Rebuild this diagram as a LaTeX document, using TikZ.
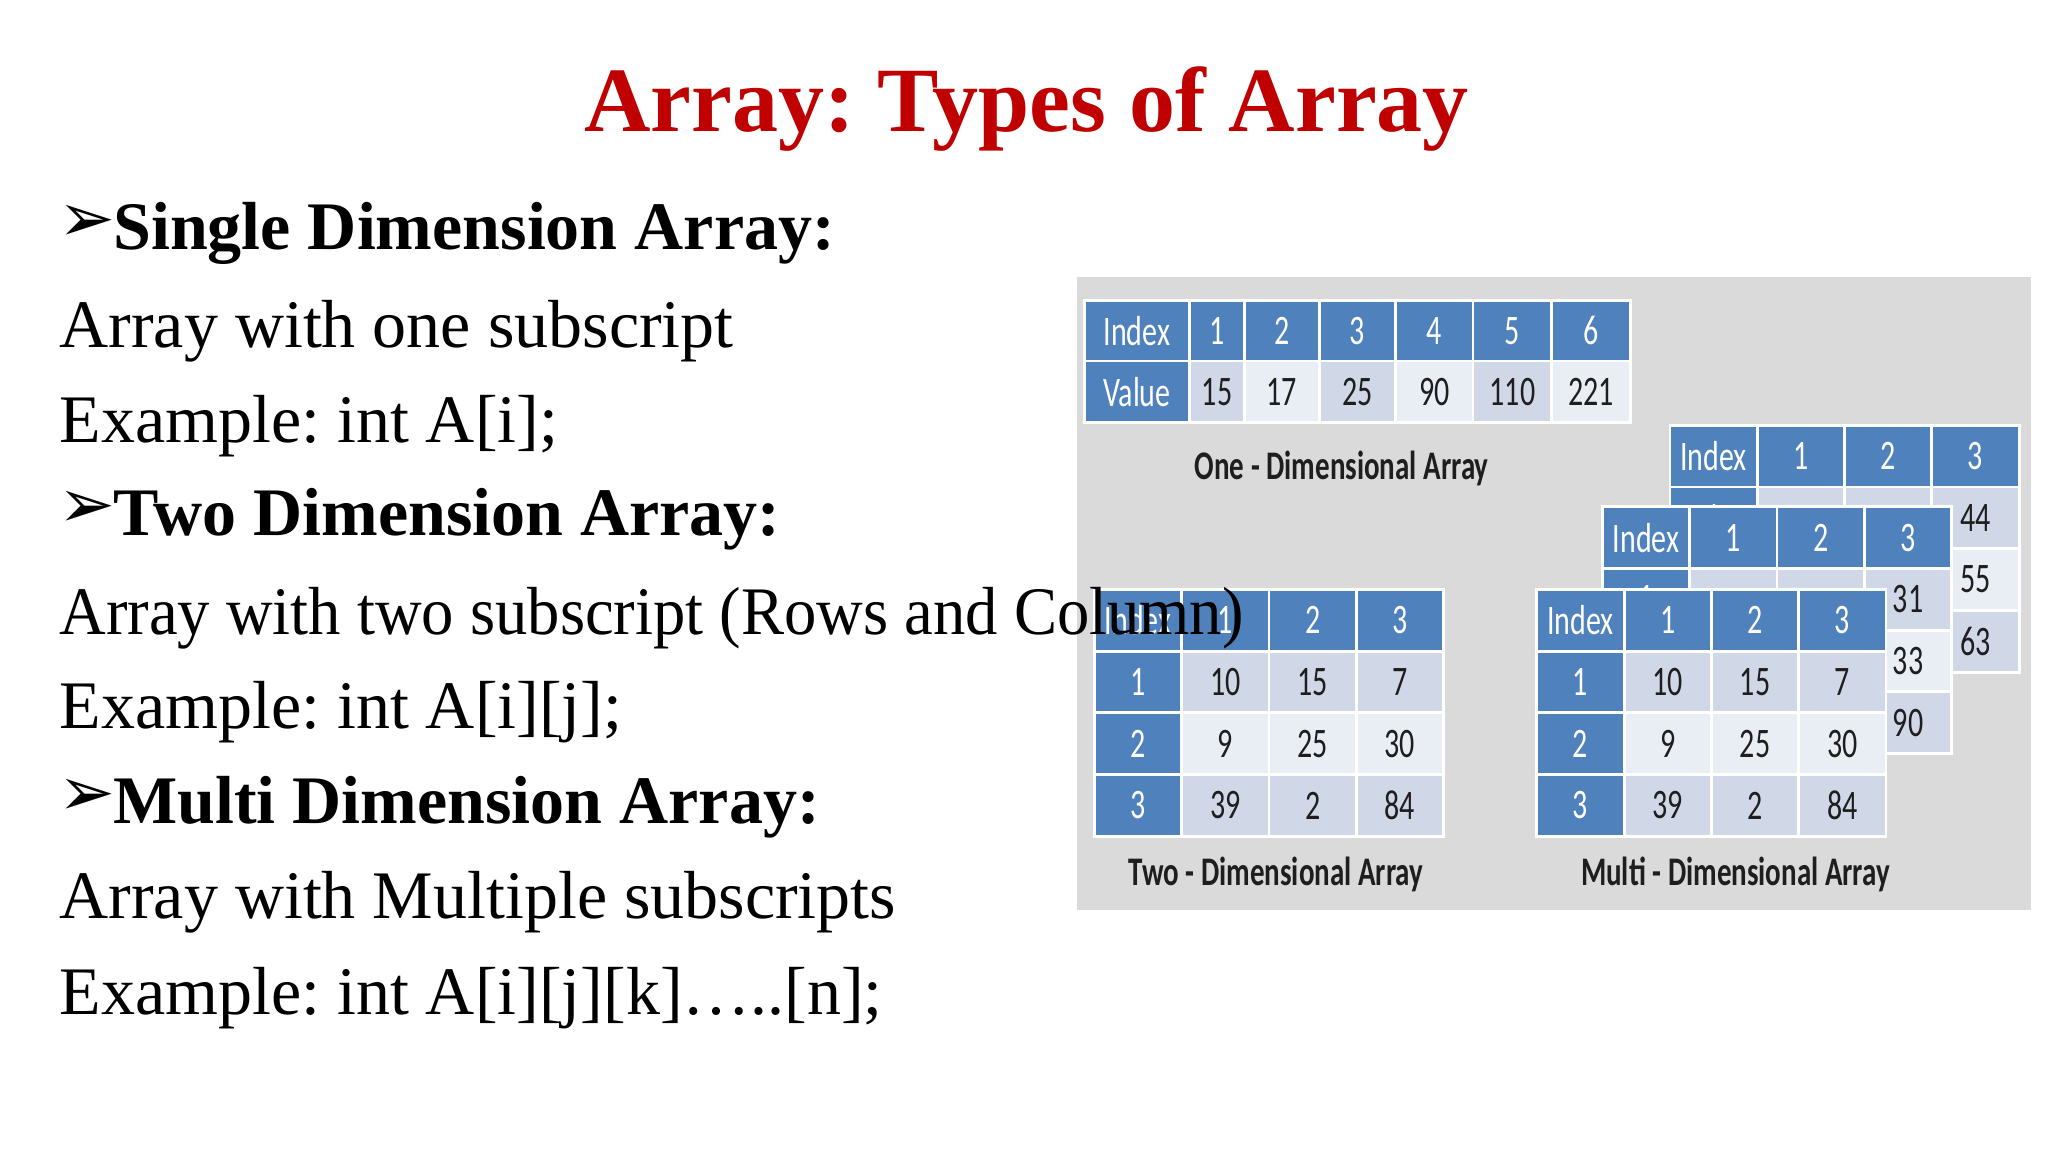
\documentclass[tikz,border=0pt]{standalone}
\usepackage{fontspec}
\usepackage{graphicx}
\setmainfont{Liberation Serif}
\newfontfamily\calf{Carlito}
\newfontfamily\dvf{DejaVu Sans}
\frenchspacing
\definecolor{titred}{RGB}{192,0,0}
\definecolor{hdr}{RGB}{79,129,189}
\definecolor{ltA}{RGB}{208,216,232}
\definecolor{ltB}{RGB}{233,237,244}
\definecolor{panel}{RGB}{218,218,218}
\definecolor{txt}{RGB}{30,30,30}
\newcommand\cellfont{\calf\fontsize{15}{15}\selectfont}
\newcommand\bx[7]{%
  \path[fill=#5,draw=white,line width=1.4pt] ({#1},{#2}) rectangle ++({#3},{#4});
  \node[text=#6,font=\cellfont,inner sep=0pt] at ({(#1)+(#3)/2},{(#2)+(#4)/2}) {\scalebox{1}[1.4]{#7}};}
\newcommand\mtab[3]{%
  \foreach \t [count=\c from 0] in {Index,1,2,3} {\bx{#1+66.5*\c}{#2}{66.5}{47}{hdr}{white}{\t}}
  \foreach \r in {1,2,3} {\bx{#1}{#2+47*\r}{66.5}{47}{hdr}{white}{\r}}
  \foreach \v [count=\k from 0] in {#3} {%
    \pgfmathtruncatemacro\rr{\k/3}%
    \pgfmathtruncatemacro\cc{mod(\k,3)}%
    \ifnum\rr=1 \def\fc{ltB}\else\def\fc{ltA}\fi
    \bx{#1+66.5*(\cc+1)}{#2+47*(\rr+1)}{66.5}{47}{\fc}{txt}{\v}}}
\tikzset{line/.style={anchor=base west,inner sep=0pt,font=\fontsize{34}{34}\selectfont},
  head/.style={line,font=\fontsize{34}{34}\selectfont\bfseries},
  arr/.style={anchor=base west,inner sep=0pt,font=\dvf\fontsize{34}{34}\selectfont},
  lab/.style={inner sep=0pt,text=txt,font=\calf\bfseries\fontsize{14.5}{14.5}\selectfont}}
\begin{document}
\begin{tikzpicture}[x=0.6564pt,y=-0.6564pt]
\useasboundingbox (0,0) rectangle (1560,877.5);
\fill[white] (0,0) rectangle (1560,877.5);
\fill[panel] (820,211) rectangle (1547,693);
% 1D table
\bx{826}{229}{80}{46}{hdr}{white}{Index}
\bx{826}{275}{80}{47}{hdr}{white}{Value}
\foreach \a/\b/\i/\v/\f in {906/948/1/15/ltA,948/1005/2/17/ltB,1005/1063/3/25/ltA,1063/1122/4/90/ltB,1122/1182/5/110/ltA,1182/1242/6/221/ltB}{%
  \bx{\a}{229}{\b-\a}{46}{hdr}{white}{\i}
  \bx{\a}{275}{\b-\a}{47}{\f}{txt}{\v}}
\node[lab] (l1) at (1022,357) {\scalebox{1}[1.4]{One - Dimensional Array}};
% multi-dimensional back tables
\mtab{1272}{324}{,,44,,,55,,,63}
\mtab{1220.6}{386}{,,31,,,33,,,90}
\mtab{1170.6}{449}{10,15,7,9,25,30,39,2,84}
% 2D table
\mtab{833.6}{449}{10,15,7,9,25,30,39,2,84}
\node[lab] (l2) at (972,666) {\scalebox{1}[1.4]{Two - Dimensional Array}};
\node[lab] (l3) at (1322,666) {\scalebox{1}[1.4]{Multi - Dimensional Array}};
% text
\node[anchor=base,inner sep=0pt,text=titred,font=\fontsize{46}{46}\selectfont\bfseries] (title) at (782,100) {Array: Types of Array};
\node[arr] (a1) at (44,184) {➢};
\node[head] (h1) at (86,190) {Single Dimension Array:};
\node[line] (t1) at (45,265) {Array with one subscript};
\node[line] (t2) at (45,337) {Example: int A[i];};
\node[arr] (a2) at (44,402) {➢};
\node[head] (h2) at (86,408) {Two Dimension Array:};
\node[line] (t3) at (45,483) {\scalebox{0.95}[1]{Array with two subscript (Rows and Column)}};
\node[line] (t4) at (45,555) {Example: int A[i][j];};
\node[arr] (a3) at (44,621) {➢};
\node[head] (h3) at (86,627) {Multi Dimension Array:};
\node[line] (t5) at (45,700) {Array with Multiple subscripts};
\node[line] (t6) at (45,773) {Example: int A[i][j][k]…..[n];};
\end{tikzpicture}
\end{document}
